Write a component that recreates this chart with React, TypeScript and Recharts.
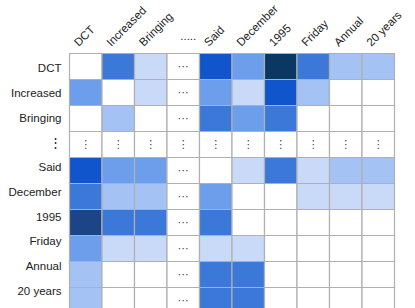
import React from "react";
import { BarChart, Bar, XAxis, YAxis, Cell, LabelList } from "recharts";

const rowLabels = ["DCT", "Increased", "Bringing", "⋮", "Said", "December", "1995", "Friday", "Annual", "20 years"];
const colLabels = ["DCT", "Increased", "Bringing", ".....", "Said", "December", "1995", "Friday", "Annual", "20 years"];

// intensity levels 0..7 (null = elided row/column)
const rowDCT = [0, 4, 1, null, 5, 3, 7, 4, 2, 2];
const rowIncreased = [3, 0, 1, null, 3, 1, 5, 2, 0, 0];
const rowBringing = [0, 2, 0, null, 4, 3, 4, 0, 0, 0];
const rowEllipsis = [null, null, null, null, null, null, null, null, null, null];
const rowSaid = [5, 3, 3, null, 0, 1, 4, 1, 2, 2];
const rowDecember = [4, 2, 2, null, 3, 0, 0, 1, 1, 1];
const row1995 = [6, 4, 4, null, 4, 0, 0, 0, 0, 0];
const rowFriday = [3, 1, 1, null, 1, 1, 0, 0, 0, 0];
const rowAnnual = [2, 0, 0, null, 4, 4, 0, 0, 0, 0];
const row20years = [2, 0, 0, null, 4, 4, 0, 0, 0, 0];

const matrix = [rowDCT, rowIncreased, rowBringing, rowEllipsis, rowSaid, rowDecember, row1995, rowFriday, rowAnnual, row20years];

const palette = ["#ffffff", "#c9daf8", "#a4c2f4", "#6d9eeb", "#3c78d8", "#1155cc", "#1c4587", "#0b3763"];

const data = rowLabels.map((name, r) => {
  const o: any = { name };
  colLabels.forEach((_, c) => {
    o["c" + c] = 1;
  });
  return o;
});

const FONT = "'Liberation Sans', Arial, sans-serif";

const YTick = (props: any) => {
  const { x, y, payload } = props;
  const yy = 68.3 + (y - 66.5) * 0.95;
  const isDots = payload.value === "⋮";
  return (
    <text
      x={x}
      y={yy}
      dy="0.355em"
      textAnchor="end"
      fontSize={isDots ? 12.5 : 11.5}
      fontFamily={FONT}
      fill="#222"
    >
      {payload.value}
    </text>
  );
};

const XTick = (props: any) => {
  const { x, payload } = props;
  const idx = Math.round(payload.value - 0.5);
  const label = colLabels[idx];
  if (label === ".....") {
    return (
      <text x={x - 3} y={40} textAnchor="start" fontSize={11.5} fontFamily={FONT} fill="#222">
        {label}
      </text>
    );
  }
  const ax = x - 7;
  const ay = 47;
  return (
    <text x={ax} y={ay} textAnchor="start" fontSize={11.5} fontFamily={FONT} fill="#222" transform={`rotate(-45 ${ax} ${ay})`}>
      {label}
    </text>
  );
};

const makeDots = (c: number) => (props: any) => {
  const { x, y, width, height, index } = props;
  const v = matrix[index][c];
  if (v !== null) return null;
  const glyph = index === 3 ? "⋮" : "⋯";
  return (
    <text
      x={x + width / 2}
      y={y + height / 2}
      textAnchor="middle"
      dominantBaseline="central"
      fontSize={11}
      fontFamily="'DejaVu Sans', sans-serif"
      fill="#444"
    >
      {glyph}
    </text>
  );
};

export default function App() {
  return (
    <div style={{ position: "absolute", left: 0, top: 0, width: 415, height: 308, overflow: "hidden", background: "#fff" }}>
      <BarChart
        width={415}
        height={330}
        data={data}
        layout="vertical"
        margin={{ top: 23.5, right: 20.5, left: 0, bottom: 16.5 }}
        barCategoryGap={0}
        barGap={0}
      >
        <XAxis
          type="number"
          orientation="top"
          domain={[0, 10]}
          ticks={colLabels.map((_, i) => i + 0.5)}
          height={30}
          axisLine={false}
          tickLine={false}
          tick={<XTick />}
          interval={0}
        />
        <YAxis
          type="category"
          dataKey="name"
          width={69.5}
          axisLine={false}
          tickLine={false}
          tick={<YTick />}
          interval={0}
        />
        {colLabels.map((_, c) => (
          <Bar key={c} dataKey={"c" + c} stackId="a" isAnimationActive={false}>
            {data.map((_, r) => {
              const v = matrix[r][c];
              return <Cell key={r} fill={v === null ? "#ffffff" : palette[v]} stroke="#b0b0b0" strokeWidth={1.2} />;
            })}
            <LabelList dataKey={"c" + c} content={makeDots(c)} />
          </Bar>
        ))}
      </BarChart>
    </div>
  );
}
